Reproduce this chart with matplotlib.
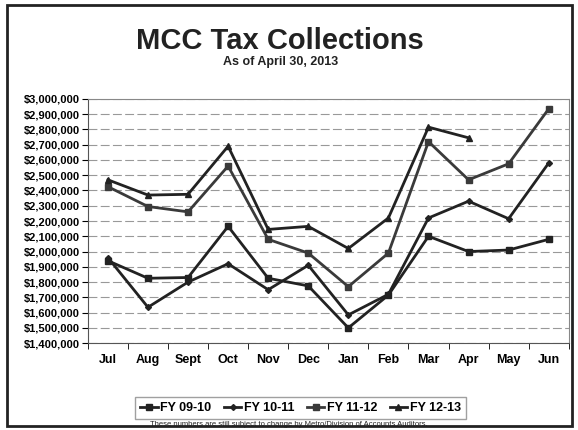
import matplotlib
matplotlib.use("Agg")
import matplotlib.pyplot as plt
import matplotlib.patches as patches
import numpy as np
from matplotlib.ticker import FuncFormatter

plt.rcParams['font.family'] = ['Liberation Sans', 'DejaVu Sans']

months = ['Jul', 'Aug', 'Sept', 'Oct', 'Nov', 'Dec', 'Jan', 'Feb', 'Mar', 'Apr', 'May', 'Jun']
fy0910 = [1940000, 1825000, 1830000, 2165000, 1825000, 1775000, 1500000, 1715000, 2100000, 2000000, 2010000, 2080000]
fy1011 = [1960000, 1635000, 1800000, 1920000, 1750000, 1910000, 1585000, 1720000, 2220000, 2330000, 2215000, 2580000]
fy1112 = [2425000, 2295000, 2260000, 2560000, 2080000, 1990000, 1770000, 1990000, 2720000, 2470000, 2575000, 2935000]
fy1213 = [2470000, 2370000, 2375000, 2690000, 2145000, 2165000, 2020000, 2220000, 2815000, 2745000]
labels = ['FY 09-10', 'FY 10-11', 'FY 11-12', 'FY 12-13']

fig = plt.figure(figsize=(5.78, 4.30), dpi=100)
ax = fig.add_axes([0.152, 0.202, 0.832, 0.568])

x = np.arange(len(months))
line_col = '#222222'
ax.plot(x, fy0910, color=line_col, lw=2, marker='s', ms=5, label=labels[0])
ax.plot(x, fy1011, color=line_col, lw=2, marker='D', ms=3, label=labels[1])
ax.plot(x, fy1112, color='#3a3a3a', lw=2, marker='s', ms=5, label=labels[2])
ax.plot(x[:len(fy1213)], fy1213, color=line_col, lw=2, marker='^', ms=5, label=labels[3])

ax.set_xlim(-0.5, 11.5)
ax.set_ylim(1400000, 3000000)
ax.set_yticks(np.arange(1400000, 3000001, 100000))
ax.yaxis.set_major_formatter(FuncFormatter(lambda v, p: '${:,.0f}'.format(v)))
ax.set_xticks(x)
ax.set_xticklabels(months, fontweight='bold', fontsize=9)
ax.set_xticks(np.arange(-0.5, 12, 1), minor=True)
ax.tick_params(axis='x', which='major', length=0, pad=8)
ax.tick_params(axis='x', which='minor', length=4, direction='out')
ax.tick_params(axis='y', labelsize=8, length=4, pad=2)
for t in ax.get_yticklabels():
    t.set_fontweight('bold')
ax.grid(axis='y', color='#999999', lw=0.8, ls=(0, (8, 3)))
ax.set_axisbelow(True)
for s in ['top', 'right']:
    ax.spines[s].set_color('#888888')
ax.spines['left'].set_color('#555555')
ax.spines['bottom'].set_color('#555555')

fig.text(0.485, 0.905, 'MCC Tax Collections', ha='center', va='center',
         fontsize=21, fontweight='bold', color='#222222')
fig.text(0.485, 0.855, 'As of April 30, 2013', ha='center', va='center',
         fontsize=9, fontweight='bold', color='#222222')

leg = fig.legend(loc='center', bbox_to_anchor=(0.52, 0.051), ncol=4, frameon=True,
                 fancybox=False, edgecolor='#888888', handlelength=1.4,
                 handletextpad=0.2, columnspacing=1.0, borderpad=0.4,
                 prop={'weight': 'bold', 'size': 9})
fig.text(0.5, 0.013, 'These numbers are still subject to change by Metro/Division of Accounts Auditors.',
         ha='center', va='center', fontsize=5.5, color='#222222')

frame = patches.Rectangle((0.012, 0.01), 0.978, 0.978, transform=fig.transFigure,
                          fill=False, edgecolor='#222222', lw=2)
fig.patches.append(frame)

fig.savefig('out.png', dpi=100)
